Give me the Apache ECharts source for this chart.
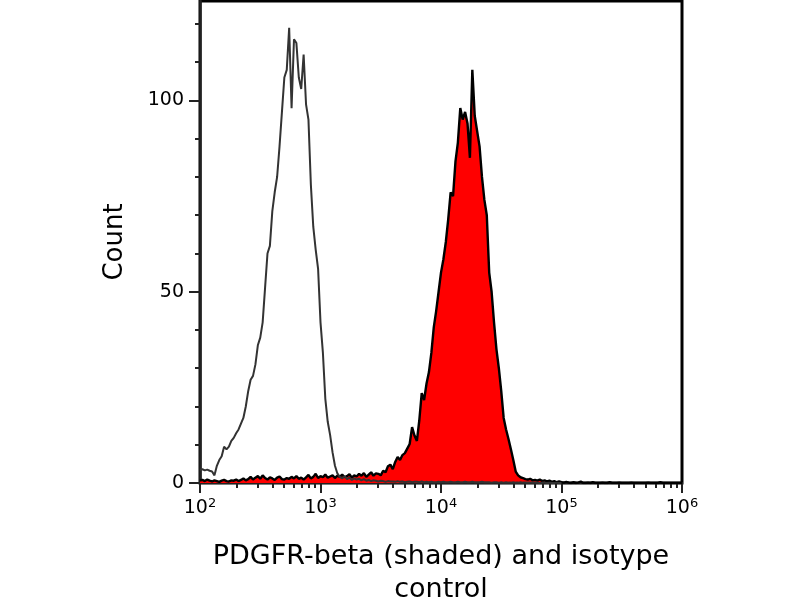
<!DOCTYPE html>
<html>
<head>
<meta charset="utf-8">
<script src="https://cdn.jsdelivr.net/npm/echarts@6/dist/echarts.min.js"></script>
<style>
  html, body { margin: 0; padding: 0; background: #fff; }
  #chart { width: 800px; height: 600px; }
</style>
</head>
<body>
<div id="chart"></div>
<script>
// bins are log10 of the fluorescence channel, 0.02 wide, starting at 10^2
const binStart = 2;
const binStep = 0.02;

// isotype control (open outline)
const isotypeCounts = [
  3.4, 3.6, 3.3, 3.5, 3.2, 3.0, 2.0, 4.5, 6.0, 7.0,
  9.5, 8.8, 9.5, 11.0, 11.8, 13.0, 14.0, 15.5, 17, 20,
  24, 27, 28, 31, 36, 38, 42, 51, 60, 62,
  71, 76, 80, 88, 97, 106, 108, 119, 98, 116,
  115, 106, 103, 112, 99, 95, 78, 67, 61, 56,
  42, 34, 22, 16, 12.5, 8, 4.5, 2.5, 1.6, 1.2,
  1.8, 1.0, 1.4, 0.8, 1.2, 0.9, 1.1, 0.7, 1.0, 0.6,
  0.8, 0.5, 0.7, 0.6, 0.4, 0.6, 0.5, 0.3, 0.5, 0.4,
  0.4, 0.3, 0.5, 0.3, 0.4, 0.2, 0.3, 0.4, 0.2, 0.3,
  0.3, 0.2, 0.4, 0.2, 0.3, 0.2, 0.3, 0.2, 0.2, 0.3,
  0.2, 0.3, 0.2, 0.2, 0.3, 0.2, 0.2, 0.3, 0.2, 0.2,
  0.3, 0.2, 0.2, 0.3, 0.2, 0.2, 0.2, 0.3, 0.2, 0.2,
  0.2, 0.1, 0.2, 0.2, 0.1, 0.2, 0.1, 0.2, 0.1, 0.1,
  0.2, 0.1, 0.1, 0.2, 0.1, 0.1, 0.1, 0.1, 0.2, 0.1,
  0.1, 0.0, 0.1, 0.1, 0.0, 0.1, 0.0, 0.0, 0.1, 0.0,
  0.0
];

// PDGFR-beta stained (shaded)
const pdgfrCounts = [
  0.6, 0.8, 0.5, 0.9, 0.6, 0.4, 0.7, 0.5, 0.3, 0.6,
  0.8, 0.5, 0.4, 0.7, 0.6, 0.9, 0.5, 0.8, 1.2, 0.7,
  1.0, 1.6, 0.9, 1.4, 1.8, 1.1, 2.0, 1.3, 0.9, 1.5,
  1.2, 0.8, 1.4, 1.7, 1.0, 0.9, 1.3, 1.1, 1.6, 1.2,
  1.8, 1.1, 1.4, 0.9, 1.5, 2.1, 1.2, 1.6, 2.4, 1.3,
  1.8, 1.5, 2.2, 1.4, 1.7, 2.0, 1.3, 1.9, 1.6, 2.2,
  1.5, 1.8, 2.3, 1.4, 2.0, 1.7, 2.4, 1.9, 2.6, 1.6,
  2.2, 2.8, 1.9, 2.5, 2.4, 2.0, 3.2, 2.8, 4.4, 4.8,
  3.6, 5.5, 6.8, 6.0, 7.3, 7.8, 9.0, 10.2, 14.6, 12.4,
  11.0, 16.4, 23.5, 21.7, 26, 29, 34, 40.7, 45, 50,
  55, 58.5, 63, 69, 76, 75, 84, 89, 98, 95,
  97, 94, 85, 108, 96, 92, 88, 80, 74, 70,
  55, 50, 42, 35, 30, 24, 17, 14, 11.5, 8.8,
  6.0, 3.0, 2.0, 1.5, 1.3, 1.0, 0.9, 1.1, 0.7, 0.8,
  0.6, 0.9, 0.5, 0.7, 0.4, 0.6, 0.3, 0.5, 0.2, 0.4,
  0.2, 0.1, 0.3, 0.1, 0.0, 0.2, 0.0, 0.1, 0.4, 0.0,
  0.0, 0.1, 0.0, 0.2, 0.0, 0.0, 0.0, 0.1, 0.0, 0.0,
  0.2, 0.0, 0.0, 0.0, 0.1, 0.0, 0.0, 0.0, 0.0, 0.1,
  0.0, 0.0, 0.0, 0.0, 0.0, 0.0, 0.1, 0.0, 0.0, 0.0,
  0.0, 0.2, 0.0, 0.0, 0.0, 0.0, 0.0, 0.0, 0.0, 0.0,
  0.0
];

const decadeTicks = [2, 3, 4, 5, 6];          // labels 10^2 .. 10^6
const decadeMinorSteps = [2, 3, 4, 5, 6, 7, 8, 9];
const countTicks = [0, 50, 100];
const countMinorTicks = [10, 20, 30, 40, 60, 70, 80, 90, 110, 120];

const FONT = 'DejaVu Sans';

const toPairs = (arr) => arr.map((v, i) => [binStart + i * binStep, v]);

const minorX = [];
decadeTicks.slice(0, -1).forEach((d) => {
  decadeMinorSteps.forEach((k) => minorX.push(d + Math.log10(k)));
});

const chart = echarts.init(document.getElementById('chart'));
chart.setOption({
  animation: false,
  backgroundColor: '#fff',
  grid: {
    left: 200, right: 118, top: 1, bottom: 117,
    outerBoundsMode: 'none',
    containLabel: false,
    show: true, borderColor: '#000', borderWidth: 3
  },
  xAxis: [
    {
      type: 'value', min: 2, max: 6, interval: 1,
      name: 'PDGFR-beta (shaded) and isotype\ncontrol',
      nameLocation: 'middle', nameGap: 57,
      nameTextStyle: { fontFamily: FONT, fontSize: 27, lineHeight: 33, color: '#000' },
      axisLine: { lineStyle: { color: '#222', width: 2 } },
      axisTick: { customValues: decadeTicks, length: 10, lineStyle: { color: '#222', width: 2 } },
      axisLabel: {
        customValues: decadeTicks,
        margin: 14,
        formatter: (v) => '{b|10}{s|' + v + '}',
        rich: {
          b: { fontFamily: FONT, fontSize: 19, color: '#000', lineHeight: 23 },
          s: { fontFamily: FONT, fontSize: 13, color: '#000', verticalAlign: 'top', lineHeight: 13 }
        }
      },
      splitLine: { show: false }
    },
    {
      type: 'value', min: 2, max: 6, position: 'bottom',
      axisLine: { show: false },
      axisTick: { customValues: minorX, length: 5, lineStyle: { color: '#222', width: 2 } },
      axisLabel: { show: false },
      splitLine: { show: false }
    }
  ],
  yAxis: [
    {
      type: 'value', min: 0, max: 126, interval: 50,
      name: 'Count', nameLocation: 'middle', nameGap: 72, nameRotate: 90,
      nameTextStyle: { fontFamily: FONT, fontSize: 26, color: '#000' },
      axisLine: { lineStyle: { color: '#222', width: 2.5 } },
      axisTick: { customValues: countTicks, length: 11, lineStyle: { color: '#222', width: 2 } },
      axisLabel: { customValues: countTicks, margin: 16, fontFamily: FONT, fontSize: 19, color: '#000' },
      splitLine: { show: false }
    },
    {
      type: 'value', min: 0, max: 126, position: 'left',
      axisLine: { show: false },
      axisTick: { customValues: countMinorTicks, length: 5, lineStyle: { color: '#222', width: 2 } },
      axisLabel: { show: false },
      splitLine: { show: false }
    }
  ],
  series: [
    {
      name: 'PDGFR-beta',
      type: 'line',
      data: toPairs(pdgfrCounts),
      showSymbol: false,
      lineStyle: { color: '#000', width: 2.4 },
      areaStyle: { color: '#ff0000', opacity: 1 },
      z: 2
    },
    {
      name: 'Isotype control',
      type: 'line',
      data: toPairs(isotypeCounts),
      showSymbol: false,
      lineStyle: { color: '#333', width: 2 },
      z: 3
    }
  ]
});
</script>
</body>
</html>
